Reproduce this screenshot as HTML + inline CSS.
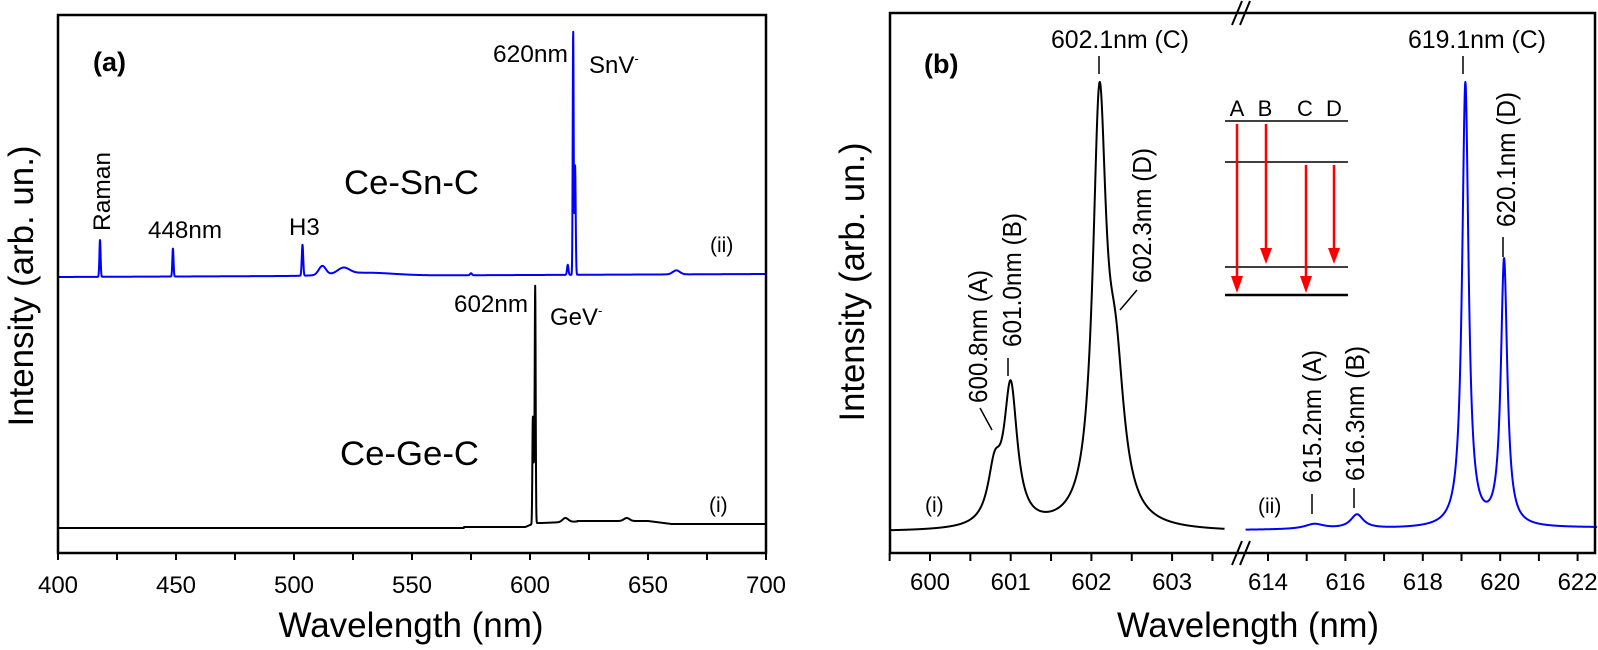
<!DOCTYPE html>
<html><head><meta charset="utf-8"><style>
html,body{margin:0;padding:0;background:#fff}
svg{display:block}
text{font-family:"Liberation Sans",Arial,sans-serif;fill:#000}
</style></head><body>
<svg id="s" width="1598" height="650" viewBox="0 0 1598 650" xmlns="http://www.w3.org/2000/svg">
<g id="g"></g>
<rect x="58" y="15" width="708" height="538" fill="none" stroke="#000" stroke-width="2.5"/>
<text x="93" y="71" font-size="27" font-weight="bold">(a)</text>
<text x="493" y="62" font-size="24" textLength="75" lengthAdjust="spacingAndGlyphs">620nm</text>
<text x="589" y="73" font-size="24">SnV<tspan font-size="13" dy="-10">-</tspan></text>
<text x="344" y="194" font-size="34" textLength="135" lengthAdjust="spacingAndGlyphs">Ce-Sn-C</text>
<text transform="translate(110,231) rotate(-90)" font-size="24" textLength="79" lengthAdjust="spacingAndGlyphs">Raman</text>
<text x="148" y="238" font-size="24" textLength="74" lengthAdjust="spacingAndGlyphs">448nm</text>
<text x="289" y="235" font-size="24">H3</text>
<text x="710" y="252" font-size="21">(ii)</text>
<text x="454" y="312" font-size="24" textLength="74" lengthAdjust="spacingAndGlyphs">602nm</text>
<text x="550" y="325" font-size="24">GeV<tspan font-size="13" dy="-10">-</tspan></text>
<text x="340" y="465" font-size="34" textLength="139" lengthAdjust="spacingAndGlyphs">Ce-Ge-C</text>
<text x="709" y="512" font-size="21">(i)</text>
<text transform="translate(33,286) rotate(-90)" font-size="35" text-anchor="middle" textLength="281" lengthAdjust="spacingAndGlyphs">Intensity (arb. un.)</text>
<text x="411" y="637" font-size="35" text-anchor="middle" textLength="265" lengthAdjust="spacingAndGlyphs">Wavelength (nm)</text>

<rect x="890" y="13" width="705" height="540" fill="none" stroke="#000" stroke-width="2.5"/>
<text x="924" y="73" font-size="27" font-weight="bold">(b)</text>
<text x="1120" y="48" font-size="25" text-anchor="middle" textLength="138" lengthAdjust="spacingAndGlyphs">602.1nm (C)</text>
<text x="1477" y="48" font-size="25" text-anchor="middle" textLength="138" lengthAdjust="spacingAndGlyphs">619.1nm (C)</text>
<line x1="1099" y1="56" x2="1099" y2="74" stroke="#000" stroke-width="1.5"/>
<line x1="1463" y1="56" x2="1463" y2="74" stroke="#000" stroke-width="1.5"/>
<g font-size="26">
<text transform="translate(987,403) rotate(-90)" textLength="133" lengthAdjust="spacingAndGlyphs">600.8nm (A)</text>
<text transform="translate(1021,347) rotate(-90)" textLength="134" lengthAdjust="spacingAndGlyphs">601.0nm (B)</text>
<text transform="translate(1151,283) rotate(-90)" textLength="135" lengthAdjust="spacingAndGlyphs">602.3nm (D)</text>
<text transform="translate(1321,483) rotate(-90)" textLength="133" lengthAdjust="spacingAndGlyphs">615.2nm (A)</text>
<text transform="translate(1364,481) rotate(-90)" textLength="135" lengthAdjust="spacingAndGlyphs">616.3nm (B)</text>
<text transform="translate(1515,227) rotate(-90)" textLength="135" lengthAdjust="spacingAndGlyphs">620.1nm (D)</text>
</g>
<g stroke="#000" stroke-width="1.5">
<line x1="980" y1="408" x2="992" y2="430"/>
<line x1="1008" y1="358" x2="1008" y2="376"/>
<line x1="1137" y1="290" x2="1120" y2="310"/>
<line x1="1312" y1="494" x2="1312" y2="514"/>
<line x1="1354" y1="488" x2="1354" y2="508"/>
<line x1="1503" y1="237" x2="1503" y2="257"/>
</g>
<text x="925" y="512" font-size="21">(i)</text>
<text x="1258" y="513" font-size="21">(ii)</text>
<text transform="translate(864,282) rotate(-90)" font-size="35" text-anchor="middle" textLength="279" lengthAdjust="spacingAndGlyphs">Intensity (arb. un.)</text>
<text x="1248" y="637" font-size="35" text-anchor="middle" textLength="262" lengthAdjust="spacingAndGlyphs">Wavelength (nm)</text>
<g stroke="#000">
<line x1="1225" y1="121" x2="1348" y2="121" stroke-width="1.5"/>
<line x1="1225" y1="162" x2="1348" y2="162" stroke-width="1.5"/>
<line x1="1225" y1="267" x2="1348" y2="267" stroke-width="1.5"/>
<line x1="1225" y1="295" x2="1348" y2="295" stroke-width="2.5"/>
</g>
<g font-size="22" text-anchor="middle">
<text x="1237" y="116">A</text><text x="1265" y="116">B</text><text x="1305" y="116">C</text><text x="1334" y="116">D</text>
</g>
<g stroke="#f00" stroke-width="2.5" fill="#f00">
<line x1="1237" y1="124" x2="1237" y2="278"/><polygon points="1231,276 1243,276 1237,293" stroke="none"/>
<line x1="1266" y1="124" x2="1266" y2="250"/><polygon points="1260,248 1272,248 1266,264" stroke="none"/>
<line x1="1306" y1="165" x2="1306" y2="278"/><polygon points="1300,276 1312,276 1306,293" stroke="none"/>
<line x1="1334" y1="165" x2="1334" y2="250"/><polygon points="1328,248 1340,248 1334,264" stroke="none"/>
</g>
</svg>
<script>
var NS="http://www.w3.org/2000/svg",g=document.getElementById('g');
function el(t,a,txt){var e=document.createElementNS(NS,t);for(var k in a)e.setAttribute(k,a[k]);if(txt!=null)e.textContent=txt;g.appendChild(e);return e;}
function L(x,x0,w){var d=(x-x0)/w;return 1/(1+d*d);}
function G(x,x0,w){var d=(x-x0)/w;return Math.exp(-d*d/2);}
function path(f,x0,x1,n,X,col,sw){var d="";for(var i=0;i<=n;i++){var x=x0+(x1-x0)*i/n;d+=(i?"L":"M")+X(x).toFixed(2)+","+f(x).toFixed(2);}el("path",{d:d,fill:"none",stroke:col,"stroke-width":sw,"stroke-linejoin":"round"});}
var Xa=function(w){return 58+(w-400)*708/300;};
path(function(x){var b=277-3*(x-400)/300;
 b-=37*G(x,417.8,0.25)+28*G(x,448.7,0.25)+31*G(x,503.6,0.3)+9*G(x,512,1.5)+6*G(x,521,2.5)+3*G(x,530,12)+2*G(x,575,0.4)+10*G(x,616,0.3)
 +244*G(x,618.3,0.2)+110*G(x,619.1,0.25)+4*G(x,662,1.5);return b;},400,700,4000,Xa,"#0000ff",2);
path(function(x){var b=528;if(x>572)b=527;if(x>598)b=527-4*Math.min(1,(x-598)/4);if(x>605)b=523-(x-605)*0.1;if(x>620)b=521;if(x>650)b=521+Math.min(3,(x-650)*0.3);
 b-=235*G(x,602.2,0.2)+105*G(x,601.2,0.2)+50*G(x,601.7,0.2)+4*G(x,615,1.2)+3*G(x,641,1.2);return b;},400,700,4000,Xa,"#000",2);
for(var w=400;w<=700;w+=25){var x=Xa(w);el("line",{x1:x,y1:553,x2:x,y2:560,stroke:"#000","stroke-width":2});
 if(w%50==0)el("text",{x:x,y:593,"font-size":24,"text-anchor":"middle"},w);}
var Xb1=function(w){return 930+(w-600)*80.7;};
var Xb2=function(w){return 1268+(w-614)*38.7;};
path(function(x){return 532-(408*L(x,602.1,0.1)+135*L(x,602.3,0.13)+137*L(x,601.0,0.1)+50*L(x,600.8,0.1));},599.5,603.65,1500,Xb1,"#000",2);
path(function(x){return 530-(x-613.5)*0.25-(444*L(x,619.1,0.1)+266*L(x,620.1,0.1)+14*L(x,616.3,0.2)+5*L(x,615.2,0.3));},613.42,622.5,1500,Xb2,"#0000ff",2);
for(var w=599.5;w<=603.55;w+=0.5){var x=Xb1(w);el("line",{x1:x,y1:553,x2:x,y2:561,stroke:"#000","stroke-width":2});
 if(Math.abs(w-Math.round(w))<1e-6)el("text",{x:x,y:590,"font-size":24,"text-anchor":"middle"},Math.round(w));}
for(var w=614;w<=622;w+=1){var x=Xb2(w);el("line",{x1:x,y1:553,x2:x,y2:561,stroke:"#000","stroke-width":2});
 if(w%2==0)el("text",{x:x,y:590,"font-size":24,"text-anchor":"middle"},w);}
[13,553].forEach(function(y){el("rect",{x:1236,y:y-4,width:16,height:8,fill:"#fff"});
 el("line",{x1:1232,y1:y+12,x2:1242,y2:y-12,stroke:"#000","stroke-width":2});
 el("line",{x1:1240,y1:y+12,x2:1250,y2:y-12,stroke:"#000","stroke-width":2});});
</script>
</body></html>
